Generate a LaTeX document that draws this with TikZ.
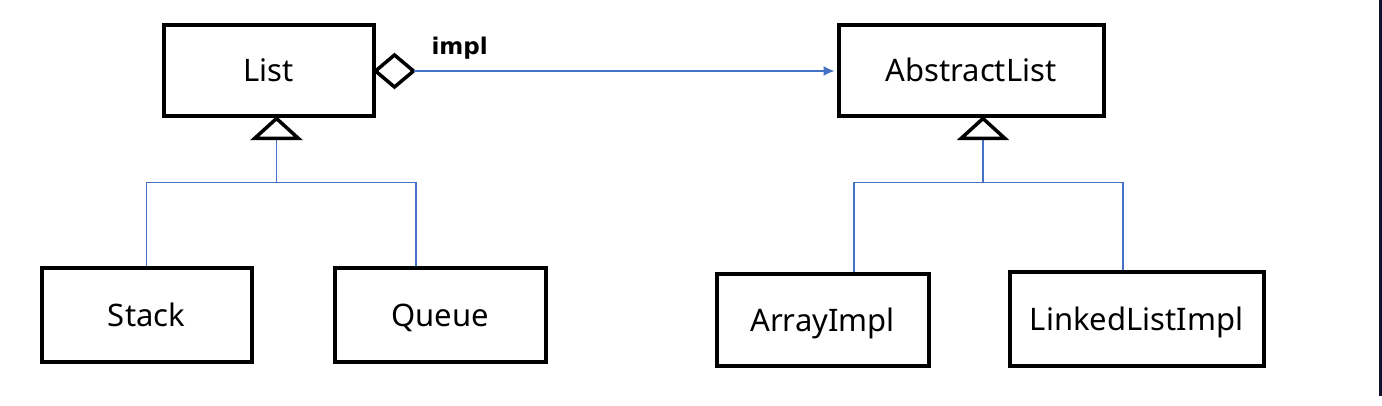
\documentclass[tikz,border=0pt]{standalone}
\usepackage{fontspec}
\setmainfont{Noto Sans}
\newfontfamily\implfont{DejaVu Sans}
\usepackage{tikz}
\usetikzlibrary{arrows.meta, positioning, calc, backgrounds}

\definecolor{linkblue}{RGB}{68,114,196}
\definecolor{barnavy}{RGB}{18,18,42}

\begin{document}
\begin{tikzpicture}[x=1pt, y=-1pt, >=Latex,
  cls/.style={draw, line width=4pt, minimum height=91pt, inner sep=0pt,
    text height=22pt, text depth=0pt, font=\fontsize{31}{36}\selectfont},
  link/.style={draw=linkblue, line width=1.6pt},
  gen/.style={draw, line width=3.5pt, fill=white, line join=miter}]
  % Canvas
  \useasboundingbox (0,0) rectangle (1382,406);
  \fill[barnavy] (1379,0) rectangle (1382,396);
  % Classes
  \node[cls, minimum width=210pt] (list) at (268.5,71) {List};
  \node[cls, minimum width=265pt] (abslist) at (971,71) {AbstractList};
  \node[cls, minimum width=210pt, minimum height=93pt] (stack) at (146.5,315) {Stack};
  \node[cls, minimum width=211pt, minimum height=93pt] (queue) at (440,315) {Queue};
  \node[cls, minimum width=212pt] (arrayimpl) at (822.5,320) {ArrayImpl};
  \node[cls, minimum width=254pt, minimum height=93pt] (linkedimpl) at (1136.5,319) {LinkedListImpl};
  % Attach points
  \coordinate (lapex) at ([xshift=8pt]list.south);
  \coordinate (rapex) at ([xshift=12pt]abslist.south);
  \coordinate (qtop) at ([xshift=-24pt]queue.north);
  \coordinate (atop) at ([xshift=31.5pt]arrayimpl.north);
  \coordinate (ltop) at ([xshift=-13.5pt]linkedimpl.north);
  % Generalisation lines
  \begin{pgfonlayer}{background}
    \draw[link] ($(lapex)+(0,20)$) -- ++(0,44) coordinate (ljoin);
    \draw[link] (stack.north) |- (ljoin) -| (qtop);
    \draw[link] ($(rapex)+(0,20)$) -- ++(0,44) coordinate (rjoin);
    \draw[link] (atop) |- (rjoin) -| (ltop);
  \end{pgfonlayer}
  \draw[gen] (lapex) -- ++(-22,20) -- ++(44,0) -- cycle;
  \draw[gen] (rapex) -- ++(-22,20) -- ++(44,0) -- cycle;
  % Aggregation
  \draw[gen] (list.east) -- ++(19,-16) -- ++(19,16) coordinate (dtip)
    -- ++(-19,16) -- cycle;
  \draw[link, -{Latex[length=11pt, width=10pt]}, shorten >=2pt] (dtip) -- (abslist.west);
  \node[font=\implfont\bfseries\fontsize{23}{27}\selectfont, anchor=base west] (impllabel)
    at (428,55) {impl};
\end{tikzpicture}
\end{document}
